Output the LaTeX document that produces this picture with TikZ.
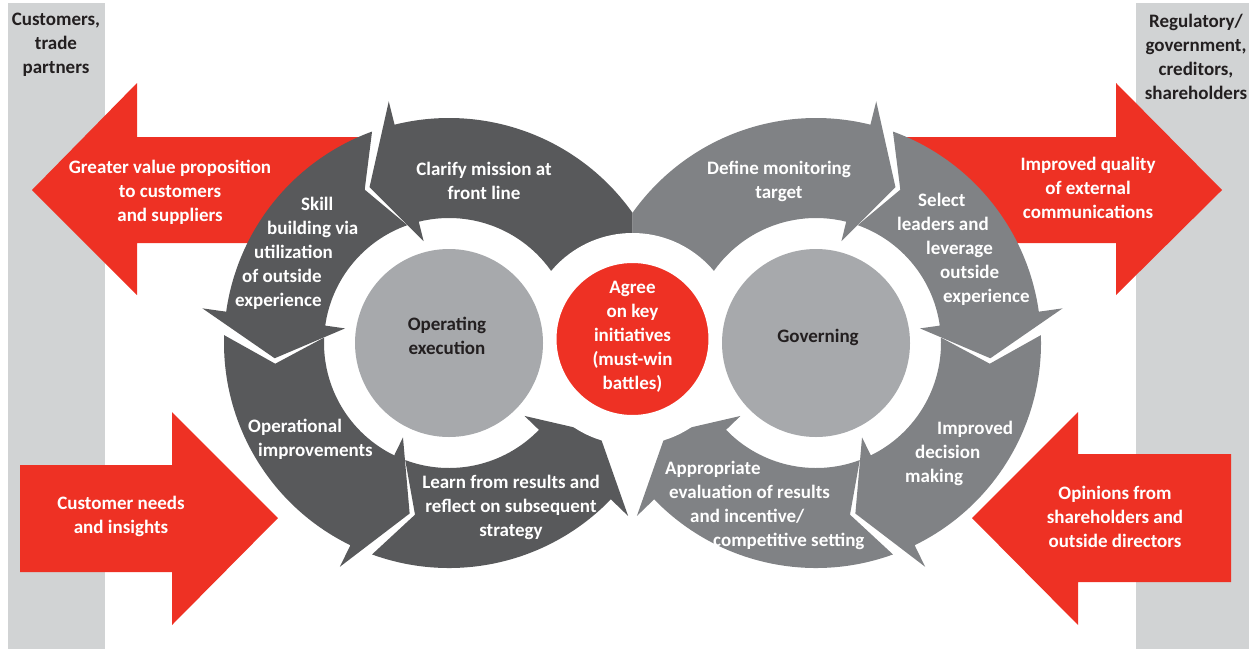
\documentclass[tikz,border=0pt]{standalone}
\usepackage{fontspec}
\setmainfont{Carlito}
\definecolor{ringdark}{HTML}{58595B}
\definecolor{ringmid}{HTML}{808285}
\definecolor{hubgray}{HTML}{A7A9AC}
\definecolor{bandgray}{HTML}{D1D3D4}
\definecolor{keyred}{HTML}{EE3124}
\definecolor{inkdark}{HTML}{231F20}

\begin{document}
\begin{tikzpicture}[x=1pt,y=1pt,
  lbl/.style={font=\fontsize{19}{24}\selectfont\bfseries, text=white, align=center, inner sep=0pt},
  darklbl/.style={lbl, text=inkdark},
  hub/.style={circle, fill=hubgray, minimum size=188pt, inner sep=0pt}]
\newcommand\cycleseg[2]{
\fill ({#1-7}:225) arc[start angle={#1-7}, end angle={#2-13}, radius=225]
  -- ({#2-13}:249) -- (#2:175) -- ({#2-13}:105) -- ({#2-13}:125)
  arc[start angle={#2-13}, end angle={#1-7.5}, radius=125] -- ({#1+1.8}:175) -- cycle;
}
\newcommand\cyclering{
\clip (-300,-300) rectangle (183.5,300);
\cycleseg{20}{117}
\cycleseg{117}{185}
\cycleseg{185}{257}
\cycleseg{257}{329}
}
\useasboundingbox (0,0) rectangle (1255,-649);

\fill[bandgray] (8,-3) rectangle (105,-649);
\fill[bandgray] (1136,-3) rectangle (1249,-649);

\fill[keyred] (360,-137) -- (137,-137) -- (137,-83) -- (32,-190) -- (137,-295) -- (137,-243) -- (360,-243) -- cycle;
\fill[keyred] (905,-137) -- (1116,-137) -- (1116,-83) -- (1222,-190) -- (1116,-295) -- (1116,-243) -- (905,-243) -- cycle;
\fill[keyred] (20,-465) -- (172,-465) -- (172,-412) -- (278,-518) -- (172,-625) -- (172,-572) -- (20,-572) -- cycle;
\fill[keyred] (1231,-454) -- (1078,-454) -- (1078,-412) -- (972,-518) -- (1078,-625) -- (1078,-582) -- (1231,-582) -- cycle;

\begin{scope}[shift={(449,-343)}, ringdark]
\cyclering
\end{scope}
\begin{scope}[shift={(816,-343)}, xscale=-1, ringmid]
\cyclering
\end{scope}

\node[circle, fill=keyred, draw=white, line width=30pt, minimum size=182pt, inner sep=0pt] (keyhub) at (632.5,-339) {};
\node[hub] (ophub) at (449,-343) {};
\node[hub] (govhub) at (816,-343) {};

\node[darklbl] (custlbl) at (56,-45) {Customers,\\trade\\partners};
\node[darklbl] (reglbl) at (1196,-57) {Regulatory/\\government,\\creditors,\\shareholders};
\node[lbl] (valuelbl) at (170,-192) {Greater value proposition\\to customers\\and suppliers};
\node[lbl] (commlbl) at (1088,-188) {Improved quality\\of external\\communications};
\node[lbl] (needslbl) at (121,-516) {Customer needs\\and insights};
\node[lbl] (opinlbl) at (1115,-517) {Opinions from\\shareholders and\\outside directors};

\node[lbl] (clarify) at (484,-181) {Clarify mission at\\front line};
\node[lbl, align=left, anchor=north west] (skill) at (235,-197) {\hspace*{66pt}Skill\\\hspace*{32pt}building via\\\hspace*{19pt}utilization\\\hspace*{7pt}of outside\\experience};
\node[lbl, align=left, anchor=north west] (opimpr) at (248,-419) {Operational\\\hspace*{10pt}improvements};
\node[lbl] (learn) at (511,-507) {Learn from results and\\reflect on subsequent\\strategy};
\node[darklbl] (optext) at (447,-336) {Operating\\execution};

\node[lbl] (agree) at (632.5,-337) {Agree\\on key\\initiatives\\(must-win\\battles)};

\node[lbl] (define) at (779,-181) {Define monitoring\\target};
\node[lbl, align=left, anchor=north west] (select) at (897,-193) {\hspace*{21pt}Select\\leaders and\\\hspace*{29pt}leverage\\\hspace*{43pt}outside\\\hspace*{46pt}experience};
\node[lbl, align=left, anchor=north west] (decide) at (905,-421) {\hspace*{32pt}Improved\\\hspace*{10pt}decision\\making};
\node[lbl, align=left, anchor=north west] (apprais) at (665,-461) {Appropriate\\\hspace*{4pt}evaluation of results\\\hspace*{25pt}and incentive/\\\hspace*{48pt}competitive setting};
\node[darklbl] (govtext) at (818,-337) {Governing};
\end{tikzpicture}
\end{document}
